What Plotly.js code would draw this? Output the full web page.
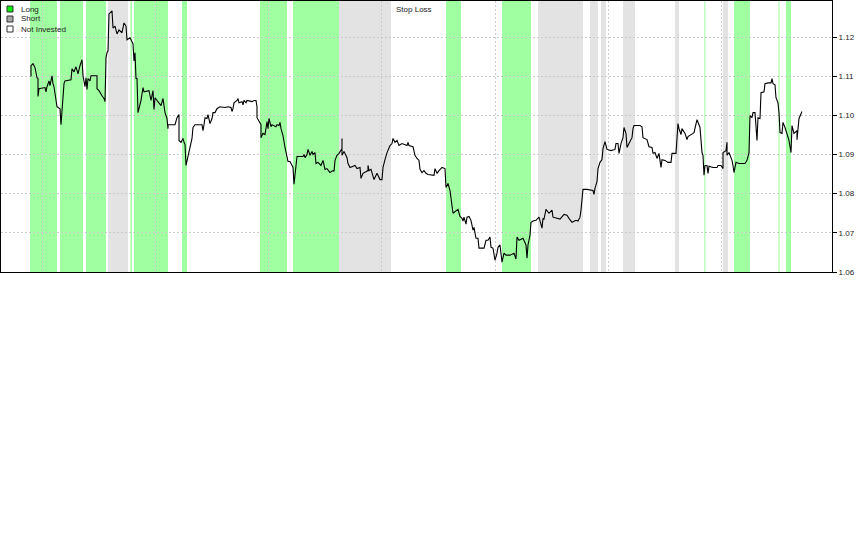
<!DOCTYPE html>
<html>
<head>
<meta charset="utf-8">
<script src="https://cdn.plot.ly/plotly-3.0.1.min.js"></script>
<style>html,body{margin:0;padding:0;background:#fff;}#chart{width:861px;height:547px;}</style>
</head>
<body>
<div id="chart"></div>
<script>
// time index (bar position) and price
var t = [31,31,33,35,37,38,38,39,45,46,47,49,50,52,53,54,57,60,61,62,64,65,71,72,74,76,78,80,82,83,85,86,87,88,90,91,97,97,99,102,104,105,106,107,108,109,112,113,115,117,119,122,124,126,127,130,132,133,134,135,136,137,138,141,143,144,149,151,153,154,155,157,159,161,163,165,167,168,168,175,177,179,179,181,183,184,185,186,188,190,192,193,195,202,203,204,205,207,208,210,212,213,215,217,219,220,225,228,231,232,233,234,237,238,239,242,243,244,246,247,252,254,256,257,257,259,261,261,263,265,266,267,268,269,271,272,276,277,279,280,281,283,285,287,288,290,293,294,295,296,297,303,304,305,307,308,310,312,313,315,316,318,321,323,325,327,330,333,334,335,337,339,342,342,342,344,345,347,348,350,355,357,360,361,363,365,368,368,369,371,373,374,377,380,382,383,385,387,390,392,393,395,397,399,402,407,408,409,413,414,415,417,419,420,422,424,426,428,434,435,437,439,442,445,446,448,450,453,458,460,462,463,464,466,467,469,471,473,474,476,478,479,484,486,488,490,491,493,495,497,498,500,502,504,506,510,514,516,517,519,523,526,527,528,530,531,533,536,539,542,543,544,546,549,552,553,557,560,564,567,569,572,576,578,580,581,583,587,593,594,595,597,598,600,602,603,605,607,611,615,616,618,619,621,623,624,626,627,629,632,633,634,640,642,643,645,647,649,652,653,655,657,659,661,662,665,668,671,672,676,677,678,679,681,682,685,687,688,693,694,697,699,700,702,703,704,705,707,708,709,713,717,718,721,723,723,726,727,727,729,732,733,734,736,739,745,747,749,750,752,753,755,756,757,758,760,761,764,765,768,771,772,773,775,776,778,779,780,782,783,785,787,789,791,792,794,797,797,798,799,802];
var price = [1.1099,1.1127,1.1132,1.1122,1.1096,1.1094,1.1048,1.1068,1.1071,1.1060,1.1073,1.1088,1.1076,1.1101,1.1081,1.1073,1.1022,1.1017,1.0976,1.1007,1.1081,1.1088,1.1091,1.1119,1.1111,1.1124,1.1106,1.1127,1.1142,1.1101,1.1073,1.1096,1.1066,1.1094,1.1088,1.1101,1.1101,1.1068,1.1063,1.1050,1.1043,1.1035,1.1147,1.1160,1.1165,1.1259,1.1267,1.1223,1.1228,1.1208,1.1218,1.1211,1.1236,1.1228,1.1193,1.1198,1.1190,1.1183,1.1139,1.1160,1.1094,1.1094,1.1007,1.1038,1.1071,1.1060,1.1063,1.1038,1.1063,1.1015,1.1045,1.1038,1.1032,1.1025,1.1043,1.1007,1.0992,1.0966,1.0976,1.0976,1.0994,1.1002,1.0936,1.0931,1.0941,1.0931,1.0926,1.0872,1.0898,1.0915,1.0941,1.0969,1.0976,1.0976,1.0961,1.0976,1.0994,1.0992,1.1002,1.0979,1.0992,1.1007,1.1007,1.1017,1.1020,1.1022,1.1020,1.1022,1.1020,1.1010,1.1017,1.1032,1.1038,1.1043,1.1032,1.1035,1.1027,1.1038,1.1032,1.1038,1.1035,1.1038,1.1038,1.1022,1.0994,1.0984,1.0976,1.0943,1.0954,1.0951,1.0974,1.0984,1.0966,1.0992,1.0971,1.0976,1.0971,1.0976,1.0974,1.0982,1.0966,1.0948,1.0918,1.0890,1.0882,1.0882,1.0867,1.0824,1.0854,1.0877,1.0895,1.0895,1.0900,1.0892,1.0900,1.0913,1.0898,1.0908,1.0900,1.0905,1.0877,1.0880,1.0872,1.0885,1.0862,1.0864,1.0854,1.0859,1.0857,1.0885,1.0898,1.0903,1.0915,1.0941,1.0898,1.0908,1.0903,1.0892,1.0877,1.0867,1.0872,1.0864,1.0867,1.0839,1.0852,1.0854,1.0859,1.0872,1.0859,1.0862,1.0847,1.0836,1.0852,1.0836,1.0836,1.0867,1.0887,1.0905,1.0923,1.0928,1.0941,1.0931,1.0936,1.0923,1.0928,1.0923,1.0931,1.0923,1.0920,1.0910,1.0898,1.0890,1.0885,1.0862,1.0854,1.0859,1.0852,1.0849,1.0847,1.0864,1.0852,1.0859,1.0867,1.0864,1.0816,1.0826,1.0808,1.0750,1.0760,1.0742,1.0737,1.0730,1.0740,1.0722,1.0740,1.0742,1.0732,1.0707,1.0714,1.0686,1.0686,1.0661,1.0661,1.0681,1.0681,1.0689,1.0663,1.0661,1.0630,1.0648,1.0663,1.0669,1.0625,1.0648,1.0643,1.0643,1.0648,1.0633,1.0689,1.0681,1.0686,1.0669,1.0635,1.0669,1.0694,1.0727,1.0730,1.0732,1.0740,1.0712,1.0737,1.0735,1.0760,1.0750,1.0758,1.0740,1.0737,1.0735,1.0747,1.0745,1.0737,1.0727,1.0732,1.0730,1.0740,1.0758,1.0811,1.0811,1.0808,1.0798,1.0814,1.0831,1.0864,1.0880,1.0887,1.0915,1.0933,1.0913,1.0910,1.0913,1.0928,1.0928,1.0903,1.0928,1.0943,1.0969,1.0954,1.0918,1.0928,1.0943,1.0966,1.0974,1.0974,1.0971,1.0943,1.0941,1.0938,1.0920,1.0918,1.0903,1.0905,1.0890,1.0903,1.0867,1.0887,1.0885,1.0880,1.0880,1.0903,1.0903,1.0954,1.0979,1.0966,1.0951,1.0966,1.0954,1.0938,1.0946,1.0954,1.0956,1.0989,1.0974,1.0969,1.0905,1.0898,1.0847,1.0872,1.0872,1.0852,1.0870,1.0867,1.0867,1.0872,1.0872,1.0864,1.0905,1.0910,1.0931,1.0898,1.0905,1.0885,1.0872,1.0854,1.0880,1.0877,1.0877,1.0885,1.0905,1.0999,1.0994,1.1007,1.1007,1.0974,1.0936,1.0994,1.0992,1.1058,1.1060,1.1081,1.1083,1.1083,1.1094,1.1081,1.1078,1.1045,1.1032,1.1007,1.0956,1.0954,1.0982,1.0969,1.0954,1.0936,1.0905,1.0974,1.0954,1.0961,1.0938,1.0966,1.0992,1.1010];

// position periods (start / end in time index)
var longStart = [30,60,86,130.5,134,182,260,293,446,502,704.3,734,778.5,786];
var longEnd   = [57,83,106,132,168,187,287,339,461,531,705.3,750,779.5,791];
var shortStart = [108,339,538,590,601,623,675,723];
var shortEnd   = [128,391,583,598,606,635,679,728];

var legendLabels = ['Long','Short','Not Invested'];
var yTicks = [1.06,1.07,1.08,1.09,1.10,1.11,1.12];
var panelTitle = 'Stop Loss';

var W = 861, H = 547;
var m = {l:1, r:29, t:1, b:275};
var pw = W - m.l - m.r, ph = H - m.t - m.b;
function px2x(p){ return (p - m.l) / pw; }
function py2y(p){ return 1 - (p - m.t) / ph; }

var shapes = [];
for (var i = 0; i < longStart.length; i++) {
  shapes.push({type:'rect', xref:'x', yref:'paper', x0:longStart[i], x1:longEnd[i], y0:0, y1:1,
    fillcolor:'#a0ffa0', line:{width:0}, layer:'below'});
}
for (var j = 0; j < shortStart.length; j++) {
  shapes.push({type:'rect', xref:'x', yref:'paper', x0:shortStart[j], x1:shortEnd[j], y0:0, y1:1,
    fillcolor:'#e3e3e3', line:{width:0}, layer:'below'});
}
var boxFill = ['#00ee00','#a8a8a8','#ffffff'];
var annotations = [];
for (var k = 0; k < legendLabels.length; k++) {
  var rowTop = 6 + k * 10;
  shapes.push({type:'rect', xref:'paper', yref:'paper', x0:px2x(7), x1:px2x(13), y0:py2y(rowTop+6), y1:py2y(rowTop),
    fillcolor:boxFill[k], line:{color:'#333', width:1}, layer:'above'});
  annotations.push({xref:'paper', yref:'paper', x:px2x(19), y:py2y(rowTop+3), xanchor:'left', yanchor:'middle',
    text:legendLabels[k], showarrow:false, font:{family:'Liberation Sans, Arial, sans-serif', size:8, color:'#222'}});
}
annotations.push({xref:'paper', yref:'paper', x:px2x(414), y:py2y(9), xanchor:'center', yanchor:'middle',
  text:panelTitle, showarrow:false, font:{family:'Liberation Sans, Arial, sans-serif', size:8, color:'#222'}});

var trace = {x:t, y:price, type:'scatter', mode:'lines', line:{color:'#000', width:1.1}, hoverinfo:'skip', showlegend:false};

var layout = {
  width:W, height:H, margin:m, paper_bgcolor:'#fff', plot_bgcolor:'#fff', showlegend:false,
  xaxis:{range:[1,832], showticklabels:false, ticks:'', tick0:42, dtick:113.3, showgrid:true,
    gridcolor:'#cccccc', griddash:'2px,2px', gridwidth:1, zeroline:false, showline:true, mirror:true,
    linecolor:'#000', linewidth:1},
  yaxis:{range:[1.06,1.1292], side:'right', tickvals:yTicks, ticktext:yTicks.map(function(v){return v.toFixed(2);}),
    ticks:'outside', ticklen:4, tickcolor:'#000', tickfont:{family:'Liberation Sans, Arial, sans-serif', size:8, color:'#222'},
    showgrid:true, gridcolor:'#cccccc', griddash:'2px,2px', gridwidth:1, zeroline:false, showline:true, mirror:true,
    linecolor:'#000', linewidth:1},
  shapes:shapes, annotations:annotations
};
Plotly.newPlot('chart', [trace], layout, {staticPlot:true, displayModeBar:false});
</script>
</body>
</html>
